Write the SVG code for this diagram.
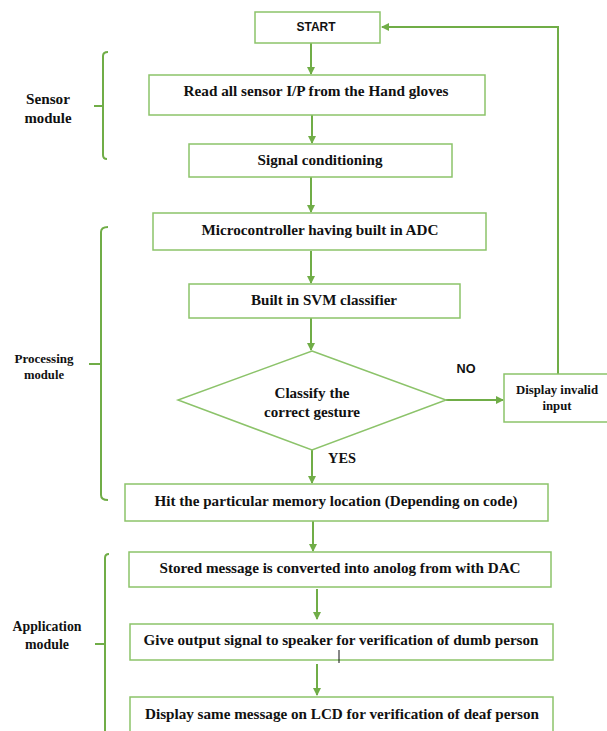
<svg xmlns="http://www.w3.org/2000/svg" width="607" height="731" viewBox="0 0 607 731">
<defs>
<marker id="ah" markerWidth="8" markerHeight="8" refX="7" refY="4" orient="auto" markerUnits="userSpaceOnUse">
<path d="M0,0 L8,4 L0,8 Z" fill="#70AD47"/>
</marker>
<style>
.box{fill:#fff;stroke:#8CC36A;stroke-width:1.5}
.ln{fill:none;stroke:#70AD47;stroke-width:2}
.br{fill:none;stroke:#70AD47;stroke-width:2}
.t{font-family:'Liberation Serif','DejaVu Serif','Times New Roman',serif;font-weight:700;font-size:15.5px;fill:#111;text-anchor:middle;dominant-baseline:central}
.s{font-family:'Liberation Sans',Arial,sans-serif;font-weight:700;font-size:12.5px;fill:#111;text-anchor:middle;dominant-baseline:central}
.l{font-family:'Liberation Serif','DejaVu Serif','Times New Roman',serif;font-weight:700;font-size:15px;fill:#111;text-anchor:middle;dominant-baseline:central}
</style>
</defs>
<rect width="607" height="731" fill="#fff"/>

<g id="connectors">
<line class="ln" x1="311" y1="43" x2="311" y2="74" marker-end="url(#ah)"/>
<line class="ln" x1="312" y1="115" x2="312" y2="143" marker-end="url(#ah)"/>
<line class="ln" x1="311" y1="177" x2="311" y2="212" marker-end="url(#ah)"/>
<line class="ln" x1="311" y1="251" x2="311" y2="283" marker-end="url(#ah)"/>
<line class="ln" x1="311" y1="318" x2="311" y2="350" marker-end="url(#ah)"/>
<line class="ln" x1="446" y1="400" x2="503" y2="400" marker-end="url(#ah)"/>
<polyline class="ln" points="558,374 558,27 382,27" marker-end="url(#ah)"/>
<line class="ln" x1="312" y1="450" x2="312" y2="483" marker-end="url(#ah)"/>
<line class="ln" x1="313" y1="521" x2="313" y2="551" marker-end="url(#ah)"/>
<line class="ln" x1="317" y1="589" x2="317" y2="619" marker-end="url(#ah)"/>
<line class="ln" x1="317" y1="664" x2="317" y2="695" marker-end="url(#ah)"/>
</g>

<g id="start"><rect class="box" x="255" y="12" width="125" height="31"/><text class="s" x="316" y="27" textLength="39" lengthAdjust="spacingAndGlyphs">START</text></g>
<g id="read"><rect class="box" x="149" y="75" width="336" height="40"/><text class="t" x="316" y="90" textLength="265" lengthAdjust="spacingAndGlyphs">Read all sensor I/P from the Hand gloves</text></g>
<g id="signal"><rect class="box" x="189" y="144" width="263" height="33"/><text class="t" x="320" y="159" textLength="125" lengthAdjust="spacingAndGlyphs">Signal conditioning</text></g>
<g id="micro"><rect class="box" x="153" y="213" width="333" height="37"/><text class="t" x="320" y="229" textLength="237" lengthAdjust="spacingAndGlyphs">Microcontroller having built in ADC</text></g>
<g id="svm"><rect class="box" x="189" y="284" width="271" height="34"/><text class="t" x="324" y="299" textLength="146" lengthAdjust="spacingAndGlyphs">Built in SVM classifier</text></g>
<g id="classify"><polygon class="box" points="312,351 446,400 312,450 178,400"/>
<text class="t" x="312" y="392" textLength="75" lengthAdjust="spacingAndGlyphs">Classify the</text>
<text class="t" x="312" y="411" textLength="96" lengthAdjust="spacingAndGlyphs">correct gesture</text></g>
<g id="invalid"><rect class="box" x="504" y="374" width="106" height="48"/>
<text class="t" x="557" y="389" style="font-size:13px" textLength="82" lengthAdjust="spacingAndGlyphs">Display invalid</text>
<text class="t" x="557" y="405" style="font-size:13px" textLength="29" lengthAdjust="spacingAndGlyphs">input</text></g>
<g id="no-label"><text class="s" x="466" y="369" textLength="19" lengthAdjust="spacingAndGlyphs">NO</text></g>
<g id="yes-label"><text class="t" x="342" y="457" textLength="28" lengthAdjust="spacingAndGlyphs">YES</text></g>
<g id="hit"><rect class="box" x="125" y="484" width="423" height="37"/><text class="t" x="336" y="500" textLength="363" lengthAdjust="spacingAndGlyphs">Hit the particular memory location (Depending on code)</text></g>
<g id="stored"><rect class="box" x="129" y="552" width="422" height="35"/><text class="t" x="340" y="567" textLength="361" lengthAdjust="spacingAndGlyphs">Stored message is converted into anolog from with DAC</text></g>
<g id="give"><rect class="box" x="130" y="624" width="423" height="36"/><text class="t" x="341" y="639" textLength="395" lengthAdjust="spacingAndGlyphs">Give output signal to speaker for verification of dumb person</text>
<line x1="339" y1="650" x2="339" y2="663" stroke="#111" stroke-width="1"/></g>
<g id="display"><rect class="box" x="130" y="697" width="423" height="50"/><text class="t" x="342" y="713" textLength="394" lengthAdjust="spacingAndGlyphs">Display same message on LCD for verification of deaf person</text></g>

<g id="sensor-module">
<path class="br" d="M108,52 Q103,52 103,56 V155 Q103,159 107,159 M94,106 H103"/>
<text class="l" x="48" y="99" textLength="44" lengthAdjust="spacingAndGlyphs">Sensor</text>
<text class="l" x="48" y="118" textLength="47" lengthAdjust="spacingAndGlyphs">module</text>
</g>
<g id="processing-module">
<path class="br" d="M108,227 Q101,227 101,232 V495 Q101,500 108,500 M89,364 H101"/>
<text class="l" x="44" y="359" style="font-size:12.5px" textLength="59" lengthAdjust="spacingAndGlyphs">Processing</text>
<text class="l" x="44" y="375" style="font-size:12.5px" textLength="40" lengthAdjust="spacingAndGlyphs">module</text>
</g>
<g id="application-module">
<path class="br" d="M109,554 Q105,554 105,558 V735 M95,644 H105"/>
<text class="l" x="47" y="626" textLength="69" lengthAdjust="spacingAndGlyphs">Application</text>
<text class="l" x="47" y="644" textLength="44" lengthAdjust="spacingAndGlyphs">module</text>
</g>
</svg>
